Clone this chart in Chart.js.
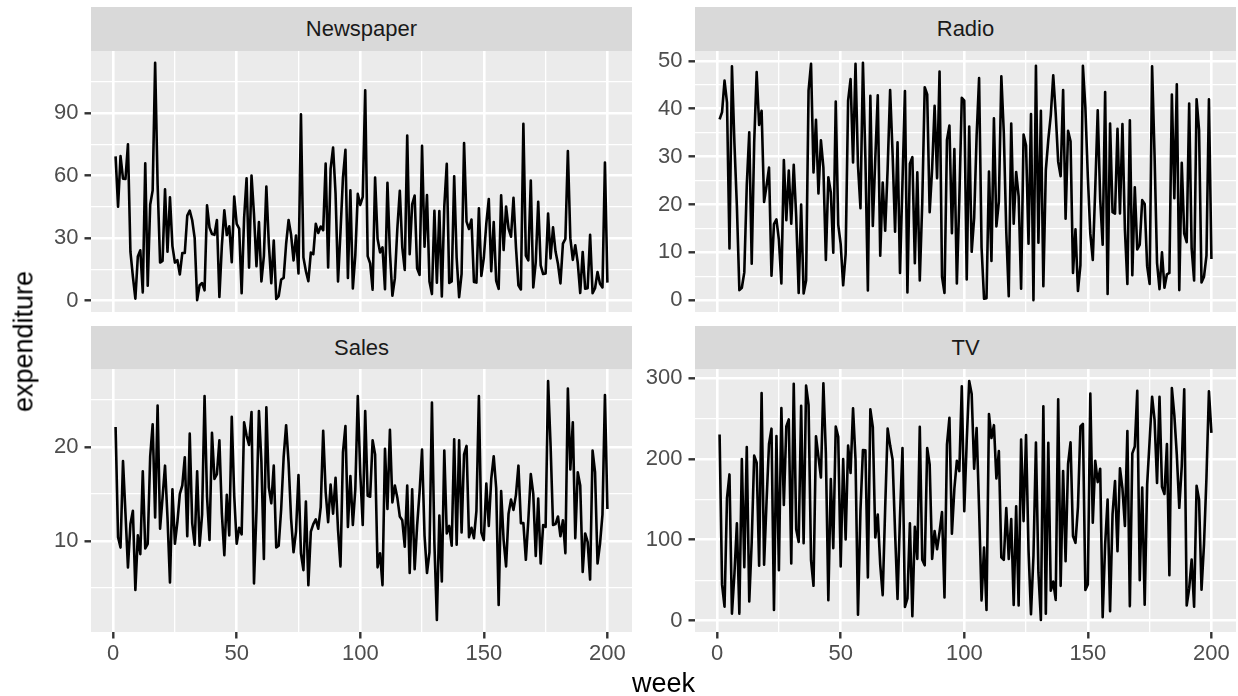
<!DOCTYPE html>
<html>
<head>
<meta charset="utf-8">
<script src="https://cdn.jsdelivr.net/npm/chart.js@4.4.1/dist/chart.umd.min.js"></script>
<style>
  body { margin: 0; background: #fff; width: 1238px; height: 696px; position: relative; overflow: hidden;
         font-family: "Liberation Sans", Arial, sans-serif; }
  canvas { position: absolute; }
  .strip { position: absolute; background: #D9D9D9; color: #1A1A1A; font-size: 22px; text-align: center; z-index: 2; }
  .title { position: absolute; color: #000; font-size: 27px; line-height: 27px; text-align: center; white-space: nowrap; }
</style>
</head>
<body>
<div id="wrap"></div>
<div class="title" style="left:613.5px; top:670px; width:100px; height:27px;">week</div>
<div class="title" style="left:-75.9px; top:327.5px; width:200px; height:27px; transform:rotate(-90deg);">expenditure</div>
<script>
// Advertising data, one row per week
const WEEKS = Array.from({ length: 200 }, (_, i) => i + 1);

const TV = [230.1,44.5,17.2,151.5,180.8,8.7,57.5,120.2,8.6,199.8,66.1,214.7,23.8,97.5,204.1,195.4,67.8,281.4,69.2,147.3,
  218.4,237.4,13.2,228.3,62.3,262.9,142.9,240.1,248.8,70.6,292.9,112.9,97.2,265.6,95.7,290.7,266.9,74.7,43.1,228,
  202.5,177,293.6,206.9,25.1,175.1,89.7,239.9,227.2,66.9,199.8,100.4,216.4,182.6,262.7,198.9,7.3,136.2,210.8,210.7,
  53.5,261.3,239.3,102.7,131.1,69,31.5,139.3,237.4,216.8,199.1,109.8,26.8,129.4,213.4,16.9,27.5,120.5,5.4,116,
  76.4,239.8,75.3,68.4,213.5,193.2,76.3,110.7,88.3,109.8,134.3,28.6,217.7,250.9,107.4,163.3,197.6,184.9,289.7,135.2,
  222.4,296.4,280.2,187.9,238.2,137.9,25,90.4,13.1,255.4,225.8,241.7,175.7,209.6,78.2,75.1,139.2,76.4,125.7,19.4,
  141.3,18.8,224,123.1,229.5,87.2,7.8,80.2,220.3,59.6,0.7,265.2,8.4,219.8,36.9,48.3,25.6,273.7,43,184.9,
  73.4,193.7,220.5,104.6,96.2,140.3,240.1,243.2,38,44.7,280.7,121,197.6,171.3,187.8,4.1,93.9,149.8,11.7,131.7,
  172.5,85.7,188.4,163.5,117.2,234.5,17.9,206.8,215.4,284.3,50,164.5,19.6,168.4,222.4,276.9,248.4,170.2,276.7,165.6,
  156.6,218.5,56.2,287.6,253.8,205,139.5,191.1,286,18.7,39.5,75.5,17.2,166.8,149.7,38.2,94.2,177,283.6,232.1];

const RADIO = [37.8,39.3,45.9,41.3,10.8,48.9,32.8,19.6,2.1,2.6,5.8,24,35.1,7.6,32.9,47.7,36.6,39.6,20.5,23.9,
  27.7,5.1,15.9,16.9,12.6,3.5,29.3,16.7,27.1,16,28.3,17.4,1.5,20,1.4,4.1,43.8,49.4,26.7,37.7,
  22.3,33.4,27.7,8.4,25.7,22.5,9.9,41.5,15.8,11.7,3.1,9.6,41.7,46.2,28.8,49.4,28.1,19.2,49.6,29.5,
  2,42.7,15.5,29.6,42.8,9.3,24.6,14.5,27.5,43.9,30.6,14.3,33,5.7,24.6,43.7,1.6,28.5,29.9,7.7,
  26.7,4.1,20.3,44.5,43,18.4,27.5,40.6,25.5,47.8,4.9,1.5,33.5,36.5,14,31.6,3.5,21,42.3,41.7,
  4.3,36.3,10.1,17.2,34.3,46.4,11,0.3,0.4,26.9,8.2,38,15.4,20.6,46.8,35,14.3,0.8,36.9,16,
  26.8,21.7,2.4,34.6,32.3,11.8,38.9,0,49,12,39.6,2.9,27.2,33.5,38.6,47,39,28.9,25.9,43.9,
  17,35.4,33.2,5.7,14.8,1.9,7.3,49,40.3,25.8,13.9,8.4,23.3,39.7,21.1,11.6,43.5,1.3,36.9,18.4,
  18.1,35.8,18.1,36.8,14.7,3.4,37.6,5.2,23.6,10.6,11.6,20.9,20.1,7.1,3.4,48.9,30.2,7.8,2.3,10,
  2.6,5.4,5.7,43,21.3,45.1,2.1,28.7,13.9,12.1,41.1,10.8,4.1,42,35.6,3.7,4.9,9.3,42,8.6];

const NEWSPAPER = [69.2,45.1,69.3,58.5,58.4,75,23.5,11.6,1,21.2,24.2,4,65.9,7.2,46,52.9,114,55.8,18.3,19.1,
  53.4,23.5,49.6,26.2,18.3,19.5,12.6,22.9,22.9,40.8,43.2,38.6,30,0.3,7.4,8.5,5,45.7,35.1,32,
  31.6,38.7,1.8,26.4,43.3,31.5,35.7,18.5,49.9,36.8,34.6,3.6,39.6,58.7,15.9,60,41.4,16.6,37.7,9.3,
  21.4,54.7,27.3,8.4,28.9,0.9,2.2,10.2,11,27.2,38.7,31.7,19.3,31.3,13.1,89.4,20.7,14.2,9.4,23.1,
  22.3,36.9,32.5,35.6,33.8,65.7,16,63.2,73.4,51.4,9.3,33,59,72.3,10.9,52.9,5.9,22,51.2,45.9,
  49.8,100.9,21.4,17.9,5.3,59,29.7,23.2,25.6,5.5,56.5,23.2,2.4,10.7,34.5,52.7,25.6,14.8,79.2,22.3,
  46.2,50.4,15.6,12.4,74.2,25.9,50.6,9.2,3.2,43.1,8.7,43,2.1,45.1,65.6,8.5,9.3,59.7,20.5,1.7,
  12.9,75.6,37.9,34.4,38.9,9,8.7,44.3,11.9,20.6,37,48.7,14.2,37.7,9.5,5.7,50.5,24.3,45.2,34.6,
  30.7,49.3,25.6,7.4,5.4,84.8,21.6,19.4,57.6,6.4,18.4,47.4,17,12.8,13.1,41.8,20.3,35.2,23.7,17.6,
  8.3,27.4,29.7,71.8,30,19.6,26.6,18.2,3.7,23.4,5.8,6,31.6,3.6,6,13.8,8.1,6.4,66.2,8.7];

const SALES = [22.1,10.4,9.3,18.5,12.9,7.2,11.8,13.2,4.8,10.6,8.6,17.4,9.2,9.7,19,22.4,12.5,24.4,11.3,14.6,
  18,12.5,5.6,15.5,9.7,12,15,15.9,18.9,10.5,21.4,11.9,9.6,17.4,9.5,12.8,25.4,14.7,10.1,21.5,
  16.6,17.1,20.7,12.9,8.5,14.9,10.6,23.2,14.8,9.7,11.4,10.7,22.6,21.2,20.2,23.7,5.5,13.2,23.8,18.4,
  8.1,24.2,15.7,14,18,9.3,9.5,13.4,18.9,22.3,18.3,12.4,8.8,11,17,8.7,6.9,14.2,5.3,11,
  11.8,12.3,11.3,13.6,21.7,15.2,12,16,12.9,16.7,11.2,7.3,19.4,22.2,11.5,16.9,11.7,15.5,25.4,17.2,
  11.7,23.8,14.8,14.7,20.7,19.2,7.2,8.7,5.3,19.8,13.4,21.8,14.1,15.9,14.6,12.6,12.2,9.4,15.9,6.6,
  15.5,7,11.6,15.2,19.7,10.6,6.6,8.8,24.7,9.7,1.6,12.7,5.7,19.6,10.8,11.6,9.5,20.8,9.6,20.7,
  10.9,19.2,20.1,10.4,11.4,10.3,13.2,25.4,10.9,10.1,16.1,11.6,16.6,19,15.6,3.2,15.3,10.1,7.3,12.9,
  14.4,13.3,14.9,18,11.9,11.9,8,12.2,17.1,15,8.4,14.5,7.6,11.7,11.5,27,20.2,11.7,11.8,12.6,
  10.5,12.2,8.7,26.2,17.6,22.6,10.3,17.3,15.9,6.7,10.8,9.9,5.9,19.6,17.3,7.6,9.7,12.8,25.5,13.4];

// axis breaks
const X_MAJOR = [0, 50, 100, 150, 200];
const X_MINOR = [25, 75, 125, 175];
const NEWSPAPER_MAJOR = [0, 30, 60, 90];
const NEWSPAPER_MINOR = [15, 45, 75, 105];
const RADIO_MAJOR = [0, 10, 20, 30, 40, 50];
const RADIO_MINOR = [5, 15, 25, 35, 45];
const SALES_MAJOR = [10, 20];
const SALES_MINOR = [5, 15, 25];
const TV_MAJOR = [0, 100, 200, 300];
const TV_MINOR = [50, 150, 250];

const FONT = "'Liberation Sans', Arial, sans-serif";
const COL_LEFT = [91, 695];
const COL_RIGHT = [632, 1236];
const ROW_TOP = [51, 369];
const ROW_BOTTOM = [312, 632];
const STRIP_TOP = [7, 326];

const panels = [
    { name: 'Newspaper', values: NEWSPAPER, major: NEWSPAPER_MAJOR, minor: NEWSPAPER_MINOR, col: 0, row: 0 },
    { name: 'Radio', values: RADIO, major: RADIO_MAJOR, minor: RADIO_MINOR, col: 1, row: 0 },
    { name: 'Sales', values: SALES, major: SALES_MAJOR, minor: SALES_MINOR, col: 0, row: 1 },
    { name: 'TV', values: TV, major: TV_MAJOR, minor: TV_MINOR, col: 1, row: 1 }
];

// ggplot style 5% expansion
function expand(vals) {
    const lo = Math.min(...vals), hi = Math.max(...vals);
    const pad = (hi - lo) * 0.05;
    return [lo - pad, hi + pad];
}

function tickList(major, minor) {
    return major.concat(minor).sort((a, b) => a - b).map(v => ({ value: v }));
}

const panelBg = {
    id: 'panelBg',
    beforeDraw(chart) {
        const a = chart.chartArea;
        chart.ctx.save();
        chart.ctx.fillStyle = '#EBEBEB';
        chart.ctx.fillRect(a.left, a.top, a.right - a.left, a.bottom - a.top);
        chart.ctx.restore();
    }
};

const wrap = document.getElementById('wrap');
const [xMin, xMax] = expand(WEEKS);

panels.forEach(p => {
    const bottomRow = p.row === 1;
    const canvasLeft = p.col === 0 ? 0 : COL_RIGHT[0];
    const canvasTop = ROW_TOP[p.row] - 20;
    const axisW = COL_LEFT[p.col] - canvasLeft;
    const padRight = p.col === 0 ? 0 : 1238 - COL_RIGHT[1];
    const width = p.col === 0 ? COL_RIGHT[0] : 1238 - canvasLeft;
    const xAxisH = bottomRow ? 696 - ROW_BOTTOM[1] : 0;
    const padBottom = bottomRow ? 0 : 20;
    const height = ROW_BOTTOM[p.row] + xAxisH + padBottom - canvasTop;

    const strip = document.createElement('div');
    strip.className = 'strip';
    strip.textContent = p.name;
    strip.style.left = COL_LEFT[p.col] + 'px';
    strip.style.width = (COL_RIGHT[p.col] - COL_LEFT[p.col]) + 'px';
    strip.style.top = STRIP_TOP[p.row] + 'px';
    strip.style.height = (ROW_TOP[p.row] - STRIP_TOP[p.row]) + 'px';
    strip.style.lineHeight = (ROW_TOP[p.row] - STRIP_TOP[p.row]) + 'px';
    wrap.appendChild(strip);

    const canvas = document.createElement('canvas');
    canvas.width = width;
    canvas.height = height;
    canvas.style.left = canvasLeft + 'px';
    canvas.style.top = canvasTop + 'px';
    wrap.appendChild(canvas);

    const [yMin, yMax] = expand(p.values);

    new Chart(canvas, {
        type: 'line',
        data: {
            datasets: [{
                data: WEEKS.map((w, i) => ({ x: w, y: p.values[i] })),
                borderColor: '#000000',
                borderWidth: 2.6,
                borderJoinStyle: 'round',
                pointRadius: 0,
                tension: 0,
                fill: false
            }]
        },
        options: {
            animation: false,
            responsive: false,
            devicePixelRatio: 1,
            layout: { padding: { top: 20, right: padRight, bottom: padBottom, left: 0 } },
            plugins: { legend: { display: false }, tooltip: { enabled: false } },
            scales: {
                x: {
                    type: 'linear',
                    min: xMin,
                    max: xMax,
                    border: { display: false },
                    afterBuildTicks: s => { s.ticks = tickList(X_MAJOR, X_MINOR); },
                    afterFit: s => { s.height = xAxisH; },
                    grid: {
                        color: '#FFFFFF',
                        lineWidth: c => X_MAJOR.includes(c.tick.value) ? 2.6 : 1.3,
                        drawTicks: bottomRow,
                        tickLength: 6.5,
                        tickWidth: 2.4,
                        tickColor: c => X_MAJOR.includes(c.tick.value) ? '#333333' : 'rgba(0,0,0,0)'
                    },
                    ticks: {
                        display: bottomRow,
                        autoSkip: false,
                        maxRotation: 0,
                        padding: 2,
                        color: '#4D4D4D',
                        font: { family: FONT, size: 22 },
                        callback: v => X_MAJOR.includes(v) ? String(v) : ''
                    }
                },
                y: {
                    type: 'linear',
                    min: yMin,
                    max: yMax,
                    border: { display: false },
                    afterBuildTicks: s => { s.ticks = tickList(p.major, p.minor); },
                    afterFit: s => { s.width = axisW; },
                    grid: {
                        color: '#FFFFFF',
                        lineWidth: c => p.major.includes(c.tick.value) ? 2.6 : 1.3,
                        tickLength: 6.5,
                        tickWidth: 2.4,
                        tickColor: c => p.major.includes(c.tick.value) ? '#333333' : 'rgba(0,0,0,0)'
                    },
                    ticks: {
                        autoSkip: false,
                        padding: 6,
                        color: '#4D4D4D',
                        font: { family: FONT, size: 22 },
                        callback: v => p.major.includes(v) ? String(v) : ''
                    }
                }
            }
        },
        plugins: [panelBg]
    });
});
</script>
</body>
</html>
